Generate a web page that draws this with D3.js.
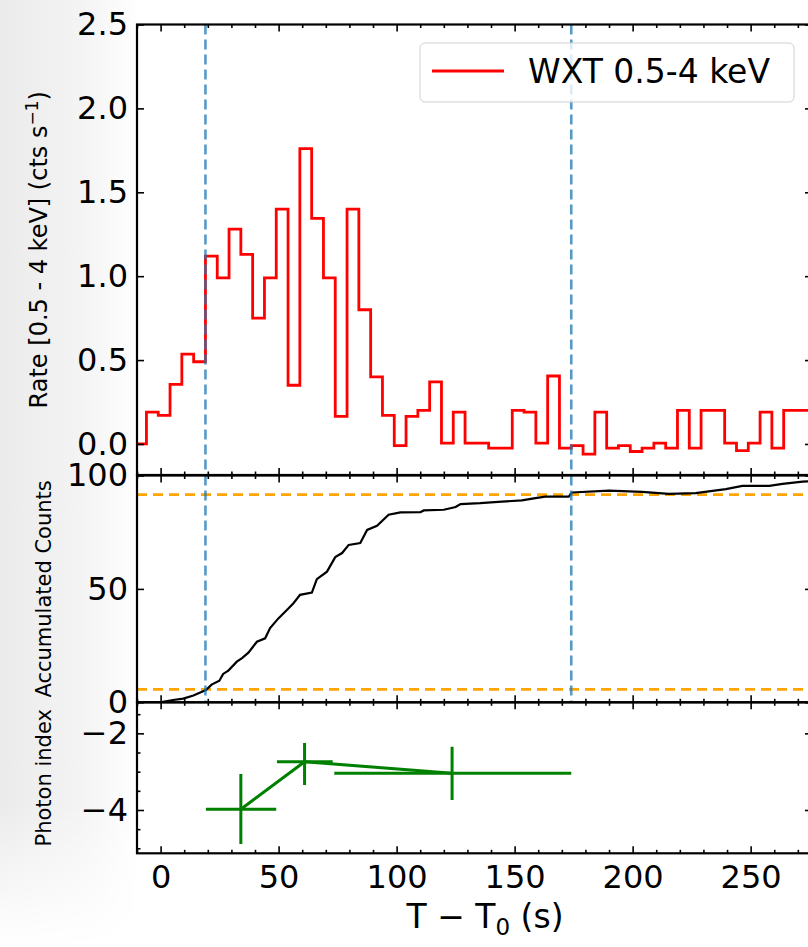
<!DOCTYPE html>
<html><head><meta charset="utf-8">
<script src="https://cdn.jsdelivr.net/npm/d3@7"></script>
<style>body{margin:0;background:#fff} svg{display:block} text{font-family:"DejaVu Sans",sans-serif}</style>
</head><body><svg id="c" width="808" height="947"></svg>
<script>
// ---------- data ----------
const rateEdges = [-11,-6,-1,4,9,14,19,24,29,34,39,44,49,54,59,64,69,74,79,84,89,94,99,104,109,114,119,124,129,134,139,144,149,154,159,164,169,174,179,184,189,194,199,204,209,214,219,224,229,234,239,244,249,254,259,264,269,274,279];
const rateValue = [0.0,0.19,0.17,0.355,0.535,0.49,1.12,0.99,1.28,1.13,0.75,0.99,1.40,0.35,1.76,1.345,0.99,0.165,1.40,0.80,0.40,0.17,-0.01,0.165,0.20,0.37,0.005,0.19,0.005,0.005,-0.025,-0.025,0.20,0.19,0.005,0.405,-0.025,-0.01,-0.06,0.19,-0.025,-0.01,-0.045,-0.025,0.005,-0.025,0.20,-0.025,0.20,0.20,0.005,-0.04,0.005,0.19,-0.025,0.20,0.20,0.20];
const cumTime  = [-10,0.4,5.3,9.6,13.9,19.2,21.6,24.9,26.5,28.7,32.3,34.5,37.2,40.8,44.3,46.4,49.9,53.5,56.3,59.1,64.1,66.2,70.5,74,76.9,79.7,84.6,87.5,91.7,96.6,101.6,110.1,111.5,120,125,127.1,135.4,144.6,153.1,158.8,163,172.9,174.3,190,204,215.4,226.7,239.5,246.5,257.9,263.5,272,280];
const cumCount = [0,0.1,1.0,1.6,3.0,5.4,7.8,9.5,12.5,14.0,17.9,19.5,21.9,26.7,28.2,32.7,37.0,40.7,43.7,47.4,48.4,54.3,57.6,64.0,65.8,69.4,70.2,76.0,77.8,82.7,83.7,83.8,84.6,84.9,86.1,87.4,87.8,88.5,89.0,90.0,90.7,90.7,92.5,93.3,92.8,91.9,92.2,94.0,95.4,95.4,96.3,97.3,97.8];
const idxTime   = [34, 61, 123.5];
const idxTimeLo = [19.2, 49.3, 73.6];
const idxTimeHi = [49, 72.9, 174];
const idxValue  = [-3.98, -2.74, -3.04];
const idxLo     = [-4.89, -3.35, -3.74];
const idxHi     = [-3.06, -2.25, -2.35];
const markTimes  = [19, 174];
const countLevels = [5.7, 91.6];
const xTicks = [0, 50, 100, 150, 200, 250];
const rateTicks = [0, 0.5, 1.0, 1.5, 2.0, 2.5];
const cumTicks = [0, 50, 100];
const idxTicks = [-4, -2];
const legendLabel = "WXT 0.5-4 keV";

// ---------- layout ----------
const svg = d3.select("#c");
const L = 137, R = 812;
const x = d3.scaleLinear().domain([-10, 276]).range([L, R]);
const panels = [
  {y: d3.scaleLinear().domain([-0.185, 2.5]).range([475, 24.5]), top: 24.5, bot: 475},
  {y: d3.scaleLinear().domain([0, 100]).range([702.3, 475.5]), top: 475.5, bot: 702.3},
  {y: d3.scaleLinear().domain([-5.13, -1.19]).range([853.3, 702.3]), top: 702.3, bot: 853.3}
];

// faint background on the left
const defs = svg.append("defs");
const g0 = defs.append("linearGradient").attr("id","bg").attr("x1","0").attr("x2","1");
g0.append("stop").attr("offset","0").attr("stop-color","#ebebeb");
g0.append("stop").attr("offset","0.6").attr("stop-color","#f4f4f4");
g0.append("stop").attr("offset","1").attr("stop-color","#ffffff");
const gm = defs.append("linearGradient").attr("id","bgv").attr("x1","0").attr("x2","0").attr("y1","0").attr("y2","1");
gm.append("stop").attr("offset","0").attr("stop-color","#fff").attr("stop-opacity",1);
gm.append("stop").attr("offset","0.85").attr("stop-color","#fff").attr("stop-opacity",1);
gm.append("stop").attr("offset","1").attr("stop-color","#fff").attr("stop-opacity",0);
defs.append("mask").attr("id","bgm").append("rect").attr("x",0).attr("y",0).attr("width",140).attr("height",947).attr("fill","url(#bgv)");
svg.append("rect").attr("x",0).attr("y",0).attr("width",140).attr("height",947).attr("fill","url(#bg)").attr("mask","url(#bgm)");

panels.forEach((p,i)=>{
  defs.append("clipPath").attr("id","clip"+i).append("rect")
    .attr("x",L).attr("y",p.top).attr("width",R-L).attr("height",p.bot-p.top);
  svg.append("rect").attr("x",L).attr("y",p.top).attr("width",R-L).attr("height",p.bot-p.top).attr("fill","#fff");
});

// ---------- panel 1: rate ----------
const p1 = panels[0];
const c1 = svg.append("g").attr("clip-path","url(#clip0)");
const ratePts = rateEdges.map((e,i)=>[e, rateValue[Math.min(i, rateValue.length-1)]]);
c1.append("path").datum(ratePts)
  .attr("d", d3.line().x(d=>x(d[0])).y(d=>p1.y(d[1])).curve(d3.curveStepAfter))
  .attr("fill","none").attr("stroke","#ff0000").attr("stroke-width",2.8);

// ---------- panel 2: accumulated counts ----------
const p2 = panels[1];
const c2 = svg.append("g").attr("clip-path","url(#clip1)");
countLevels.forEach(v=>{
  c2.append("line").attr("x1",L).attr("x2",R).attr("y1",p2.y(v)).attr("y2",p2.y(v))
    .attr("stroke","#ffa500").attr("stroke-width",2.8).attr("stroke-dasharray","10,6");
});
c2.append("path").datum(cumTime.map((t,i)=>[t,cumCount[i]]))
  .attr("d", d3.line().x(d=>x(d[0])).y(d=>p2.y(d[1])))
  .attr("fill","none").attr("stroke","#000").attr("stroke-width",2.2);

// vertical dashed lines in panels 1 and 2
[0,1].forEach(i=>{
  const p = panels[i];
  markTimes.forEach(t=>{
    svg.append("line").attr("x1",x(t)).attr("x2",x(t)).attr("y1",p.top).attr("y2",p.bot)
      .attr("stroke","#1f77b4").attr("stroke-opacity",0.75).attr("stroke-width",2.6)
      .attr("stroke-dasharray","10,5");
  });
});

// ---------- panel 3: photon index ----------
const p3 = panels[2];
const c3 = svg.append("g").attr("clip-path","url(#clip2)");
const green = "#008000";
c3.append("path").datum(idxTime.map((t,i)=>[t,idxValue[i]]))
  .attr("d", d3.line().x(d=>x(d[0])).y(d=>p3.y(d[1])))
  .attr("fill","none").attr("stroke",green).attr("stroke-width",3);
idxTime.forEach((t,i)=>{
  c3.append("line").attr("x1",x(idxTimeLo[i])).attr("x2",x(idxTimeHi[i]))
    .attr("y1",p3.y(idxValue[i])).attr("y2",p3.y(idxValue[i]))
    .attr("stroke",green).attr("stroke-width",3);
  c3.append("line").attr("x1",x(t)).attr("x2",x(t))
    .attr("y1",p3.y(idxLo[i])).attr("y2",p3.y(idxHi[i]))
    .attr("stroke",green).attr("stroke-width",3);
});

// ---------- axes ----------
const FS = 32;
function styleAxis(g){
  g.select(".domain").remove();
  g.selectAll(".tick line").attr("stroke","#000").attr("stroke-width",1.6);
  g.selectAll(".tick text").attr("font-size",FS).attr("fill","#000").attr("font-family","DejaVu Sans");
}
const xMinor = d3.range(-10, 280, 10).filter(v=>v%50!==0);
const yMinorSets = [[], [], d3.range(-5, -1, 0.5).filter(v=>v!==-2 && v!==-4)];
const yFormats = [d3.format(".1f"), d3.format("d"), d3.format("d")];
const yTickSets = [rateTicks, cumTicks, idxTicks];

panels.forEach((p,i)=>{
  const gb = svg.append("g").attr("transform",`translate(0,${p.bot})`)
    .call(d3.axisBottom(x).tickValues(xTicks).tickSize(-7).tickPadding(12)
      .tickFormat(i===2 ? d3.format("d") : ()=>""));
  styleAxis(gb);
  const gbm = svg.append("g").attr("transform",`translate(0,${p.bot})`)
    .call(d3.axisBottom(x).tickValues(xMinor).tickSize(-3.5).tickFormat(()=>""));
  styleAxis(gbm);
  const gt = svg.append("g").attr("transform",`translate(0,${p.top})`)
    .call(d3.axisTop(x).tickValues(xTicks).tickSize(-7).tickFormat(()=>""));
  styleAxis(gt);
  const gtm = svg.append("g").attr("transform",`translate(0,${p.top})`)
    .call(d3.axisTop(x).tickValues(xMinor).tickSize(-3.5).tickFormat(()=>""));
  styleAxis(gtm);
  const gl = svg.append("g").attr("transform",`translate(${L},0)`)
    .call(d3.axisLeft(p.y).tickValues(yTickSets[i]).tickSize(-7).tickPadding(9).tickFormat(yFormats[i]));
  styleAxis(gl);
  const glm = svg.append("g").attr("transform",`translate(${L},0)`)
    .call(d3.axisLeft(p.y).tickValues(yMinorSets[i]).tickSize(-3.5).tickFormat(()=>""));
  styleAxis(glm);
  const gr = svg.append("g").attr("transform",`translate(${R},0)`)
    .call(d3.axisRight(p.y).tickValues(yTickSets[i]).tickSize(-7).tickFormat(()=>""));
  styleAxis(gr);
  const grm = svg.append("g").attr("transform",`translate(${R},0)`)
    .call(d3.axisRight(p.y).tickValues(yMinorSets[i]).tickSize(-3.5).tickFormat(()=>""));
  styleAxis(grm);
  svg.append("rect").attr("x",L).attr("y",p.top).attr("width",R-L).attr("height",p.bot-p.top)
    .attr("fill","none").attr("stroke","#000").attr("stroke-width",2.2);
});

// ---------- legend ----------
const lg = svg.append("g");
lg.append("rect").attr("x",420).attr("y",43).attr("width",374).attr("height",59).attr("rx",5)
  .attr("fill","#fff").attr("fill-opacity",0.8).attr("stroke","#d0d0d0").attr("stroke-width",1);
lg.append("line").attr("x1",432).attr("x2",504).attr("y1",71).attr("y2",71)
  .attr("stroke","#ff0000").attr("stroke-width",2.8);
lg.append("text").attr("x",528).attr("y",83).attr("font-size",33).text(legendLabel);

// ---------- axis titles ----------
const t1 = svg.append("text").attr("transform",`translate(47,${(p1.top+p1.bot)/2}) rotate(-90)`)
  .attr("text-anchor","middle").attr("font-size",24);
t1.append("tspan").text("Rate [0.5 - 4 keV] (cts s");
t1.append("tspan").attr("dy",-9).attr("font-size",17).text("−1");
t1.append("tspan").attr("dy",9).text(")");

svg.append("text").attr("transform",`translate(51,${(p2.top+p2.bot)/2}) rotate(-90)`)
  .attr("text-anchor","middle").attr("font-size",21).text("Accumulated Counts");
svg.append("text").attr("transform",`translate(51,${(p3.top+p3.bot)/2}) rotate(-90)`)
  .attr("text-anchor","middle").attr("font-size",21).text("Photon index");

const xl = svg.append("text").attr("x",485).attr("y",928).attr("text-anchor","middle").attr("font-size",33);
xl.append("tspan").text("T − T");
xl.append("tspan").attr("dy",7).attr("font-size",23).text("0");
xl.append("tspan").attr("dy",-7).text(" (s)");
</script></body></html>
